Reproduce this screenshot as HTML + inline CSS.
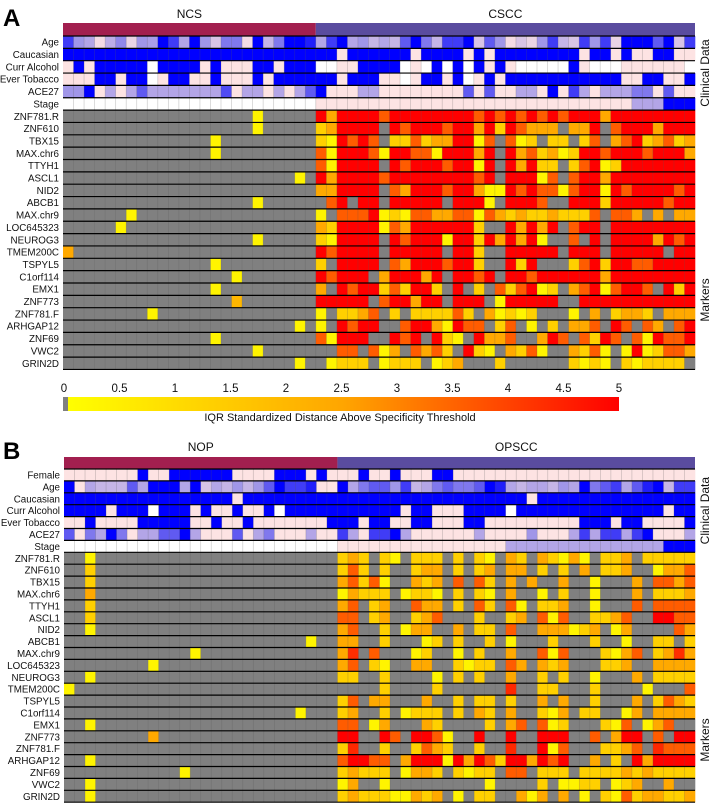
<!DOCTYPE html>
<html><head><meta charset="utf-8">
<style>
html,body{margin:0;padding:0;background:#fff;}
svg{display:block;font-family:"Liberation Sans",Arial,sans-serif;}
</style></head>
<body>
<svg id="fig" width="713" height="804" viewBox="0 0 713 804"></svg>
<script>
// ---------- DATA ----------
const clinicalLabelsA = ["Age","Caucasian","Curr Alcohol","Ever Tobacco","ACE27","Stage"];
const clinicalLabelsB = ["Female","Age","Caucasian","Curr Alcohol","Ever Tobacco","ACE27","Stage"];
const markerLabels = ["ZNF781.R","ZNF610","TBX15","MAX.chr6","TTYH1","ASCL1","NID2","ABCB1","MAX.chr9","LOC645323","NEUROG3","TMEM200C","TSPYL5","C1orf114","EMX1","ZNF773","ZNF781.F","ARHGAP12","ZNF69","VWC2","GRIN2D"];
const groupsA = ["NCS","CSCC"];
const groupSizesA = [24,36];
const groupsB = ["NOP","OPSCC"];
const groupSizesB = [26,34];
const colorbarTicks = [0,0.5,1,1.5,2,2.5,3,3.5,4,4.5,5];

// clinical values: 0 = pink (no/low), 1 = blue (yes/high), -1 = missing (white)
const clinA_age = [.8,.5,.4,.05,.35,.55,.1,.5,.45,1,.8,.4,1,.5,.2,.6,.6,.05,1,.3,.6,1,1,.9, .4,.8,1,.4,.5,.3,.4,.3,.7,1,.6,.3,.8,.8,1,.2,.7,.5,.05,.2,.1,.5,.8,.3,.2,.8,.5,.8,.1,1,1,1,.7,1,.2,.8];
const clinA_cauc = [1,1,1,1,1,1,1,1,1,1,1,1,1,1,1,1,1,1,1,1,1,1,1,1, 1,1,0,1,1,1,1,1,1,0,1,1,1,1,0,1,0,1,1,1,1,1,1,1,1,0,1,1,0,1,0,0,1,1,0,0];
const clinA_alc = [0,1,0,1,1,1,1,1,-1,1,1,1,1,0,1,0,0,0,1,1,0,1,1,1, -1,-1,0,0,1,1,1,1,-1,0,-1,1,-1,1,-1,1,0,1,0,-1,-1,-1,-1,-1,1,0,-1,-1,-1,0,0,0,0,0,0,-1];
const clinA_tob = [0,0,0,1,1,0,1,1,-1,0,1,1,0,0,1,0,0,0,1,0,1,1,1,1, 1,1,0,1,1,1,0,0,-1,0,1,1,0,1,-1,0,1,0,1,1,1,1,1,1,1,1,1,1,1,0,0,1,1,0,0,1];
const clinA_ace = [.5,.5,1,0,.4,0,.4,.7,.4,.4,.4,.4,.4,.4,.4,.75,0,.4,.4,0,.4,0,.4,.7, 1,0,0,0,.4,.4,0,0,0,0,0,0,0,0,.7,0,.7,0,0,.4,.4,0,1,0,.8,.4,0,.4,.4,.4,.6,.6,0,.7,0,0];
const clinA_stage = [-1,-1,-1,-1,-1,-1,-1,-1,-1,-1,-1,-1,-1,-1,-1,-1,-1,-1,-1,-1,-1,-1,-1,-1, 0,0,0,0,0,0,0,0,0,0,0,0,0,0,0,0,0,0,0,0,0,0,0,0,0,0,0,0,0,0,.4,.4,.4,1,1,1];

const clinB_fem = [0,0,0,0,0,0,0,1,0,0,1,1,1,1,1,1,0,0,0,0,1,1,1,0,1,0, 0,0,1,0,0,1,0,0,0,1,1,0,0,0,0,0,0,0,0,0,0,0,0,0,0,0,0,0,0,0,0,0,0,0];
const clinB_age = [1,0,.4,.3,.3,.3,.7,.4,1,1,1,.4,1,.2,.4,.3,.5,.3,.5,.7,1,.8,.8,.9,0,0, 1,.4,.6,.7,.7,.5,.8,.3,.4,.6,.7,.6,.6,.7,1,.9,.4,.3,.4,.4,.3,.5,.4,1,.6,.7,.8,.4,.7,.9,1,.3,.8,.8];
const clinB_cauc = [1,1,1,1,1,1,1,1,1,1,1,1,1,1,1,1,0,1,1,1,1,1,1,1,1,1, 1,1,1,1,1,1,1,1,1,1,1,1,1,1,1,1,1,1,0,1,1,1,1,1,1,1,1,1,1,1,1,1,1,1];
const clinB_alc = [1,1,1,1,0,1,1,1,-1,1,1,1,0,1,0,0,1,0,0,1,-1,1,1,1,1,1, 1,1,1,1,1,1,0,1,1,0,0,0,1,1,1,1,-1,1,1,1,1,1,1,1,1,1,1,1,1,1,1,0,1,1];
const clinB_tob = [0,0,1,0,0,0,0,1,1,1,1,1,0,0,1,0,0,1,0,0,0,0,0,0,0,1, 1,1,0,1,1,0,0,1,1,0,0,0,1,1,0,0,0,0,0,0,0,0,0,1,1,1,0,1,1,0,0,0,0,1];
const clinB_ace = [.7,0,.6,.4,1,.6,0,.4,.4,.7,.7,1,.4,0,0,0,.7,0,.4,.6,0,0,0,.4,0,0, .8,.4,0,.8,.8,1,.4,0,0,0,0,0,0,.4,0,0,0,0,.5,0,0,0,.4,.8,.4,.8,.8,.4,.8,1,0,0,0,.4];
const clinB_stage = [-1,-1,-1,-1,-1,-1,-1,-1,-1,-1,-1,-1,-1,-1,-1,-1,-1,-1,-1,-1,-1,-1,-1,-1,-1,-1, 0,0,0,0,0,0,0,0,0,0,0,0,0,0,0,0,.4,.4,.4,.4,.4,.4,.4,.4,.4,.4,.4,.4,.4,.4,.4,1,1,1];

// marker values: IQR standardized distance (0..5), -1 = below threshold (gray)
const mA01 = [-1,-1,-1,-1,-1,-1,-1,-1,-1,-1,-1,-1,-1,-1,-1,-1,-1,-1,0.3,-1,-1,-1,-1,-1, 5,2.4,5,5,5,5,3.6,5,5,5,5,5,5,5,5,3.6,5,3.6,5,3.6,5,3.6,5,3.6,5,5,5,2.4,5,5,5,5,5,5,5,5];
const mA02 = [-1,-1,-1,-1,-1,-1,-1,-1,-1,-1,-1,-1,-1,-1,-1,-1,-1,-1,0.3,-1,-1,-1,-1,-1, 1.3,2.4,5,5,5,5,-1,5,3.6,5,5,5,3.6,5,5,2.4,5,1.3,5,3.6,2.4,2.4,2.4,-1,2.4,2.4,5,-1,3.6,5,5,5,2.4,5,5,5];
const mA03 = [-1,-1,-1,-1,-1,-1,-1,-1,-1,-1,-1,-1,-1,-1,0.3,-1,-1,-1,-1,-1,-1,-1,-1,-1, 1.3,0.3,5,3.6,5,3.6,-1,1.3,1.3,3.6,1.3,2.4,2.4,5,5,0.3,3.6,-1,3.6,0.3,1.3,-1,1.3,1.3,-1,1.3,3.6,-1,2.4,3.6,5,1.3,2.4,3.6,1.3,2.4];
const mA04 = [-1,-1,-1,-1,-1,-1,-1,-1,-1,-1,-1,-1,-1,-1,0.3,-1,-1,-1,-1,-1,-1,-1,-1,-1, 3.6,0.3,5,5,5,3.6,0.3,5,5,3.6,3.6,0.3,5,5,5,2.4,5,-1,5,2.4,3.6,1.3,2.4,0.3,1.3,5,5,3.6,5,5,5,3.6,5,5,5,2.4];
const mA05 = [-1,-1,-1,-1,-1,-1,-1,-1,-1,-1,-1,-1,-1,-1,-1,-1,-1,-1,-1,-1,-1,-1,-1,-1, 3.6,0.3,5,5,5,5,-1,5,3.6,5,5,5,3.6,5,5,0.3,5,-1,5,2.4,5,1.3,1.3,-1,1.3,3.6,5,0.3,1.3,5,5,5,5,5,5,5];
const mA06 = [-1,-1,-1,-1,-1,-1,-1,-1,-1,-1,-1,-1,-1,-1,-1,-1,-1,-1,-1,-1,-1,-1,0.3,-1, 5,2.4,5,5,5,5,3.6,5,5,5,5,5,5,5,5,3.6,5,-1,5,5,5,0.3,3.6,-1,3.6,5,5,2.4,5,5,5,5,5,5,5,5];
const mA07 = [-1,-1,-1,-1,-1,-1,-1,-1,-1,-1,-1,-1,-1,-1,-1,-1,-1,-1,-1,-1,-1,-1,-1,-1, 2.4,2.4,5,5,5,5,-1,3.6,2.4,5,5,5,3.6,5,5,2.4,0.3,0.3,5,3.6,5,3.6,3.6,0.3,3.6,5,5,0.3,5,3.6,5,5,5,5,3.6,5];
const mA08 = [-1,-1,-1,-1,-1,-1,-1,-1,-1,-1,-1,-1,-1,-1,-1,-1,-1,-1,0.3,-1,-1,-1,-1,-1, -1,3.6,5,-1,5,5,-1,5,5,5,5,5,-1,5,5,5,0.3,-1,5,5,5,3.6,-1,-1,5,5,5,1.3,5,5,5,5,5,3.6,5,5];
const mA09 = [-1,-1,-1,-1,-1,-1,0.3,-1,-1,-1,-1,-1,-1,-1,-1,-1,-1,-1,-1,-1,-1,-1,-1,-1, 0.3,-1,3.6,3.6,3.6,5,0.3,1.3,0.3,3.6,3.6,2.4,2.4,3.6,3.6,0.3,3.6,2.4,1.3,2.4,1.3,1.3,2.4,1.3,1.3,1.3,3.6,-1,3.6,3.6,2.4,-1,2.4,-1,2.4,2.4];
const mA10 = [-1,-1,-1,-1,-1,0.3,-1,-1,-1,-1,-1,-1,-1,-1,-1,-1,-1,-1,-1,-1,-1,-1,-1,-1, 2.4,1.3,5,5,5,5,0.3,3.6,2.4,5,5,5,5,5,5,1.3,-1,-1,5,2.4,5,2.4,5,-1,3.6,5,5,-1,5,5,5,5,5,5,5,5];
const mA11 = [-1,-1,-1,-1,-1,-1,-1,-1,-1,-1,-1,-1,-1,-1,-1,-1,-1,-1,0.3,-1,-1,-1,-1,-1, 1.3,0.3,5,5,5,5,-1,5,3.6,5,5,5,0.3,5,5,1.3,5,2.4,5,2.4,5,0.3,-1,-1,3.6,-1,5,-1,5,5,5,5,2.4,5,3.6,5];
const mA12 = [2.4,-1,-1,-1,-1,-1,-1,-1,-1,-1,-1,-1,-1,-1,-1,-1,-1,-1,-1,-1,-1,-1,-1,-1, 5,3.6,5,5,5,5,-1,5,5,5,5,5,-1,5,5,1.3,-1,-1,5,5,5,5,5,-1,5,5,5,-1,5,5,5,5,5,-1,5,5];
const mA13 = [-1,-1,-1,-1,-1,-1,-1,-1,-1,-1,-1,-1,-1,-1,0.3,-1,-1,-1,-1,-1,-1,-1,-1,-1, 1.3,-1,5,5,5,5,-1,3.6,2.4,5,5,5,3.6,5,5,1.3,-1,-1,5,1.3,5,-1,-1,-1,1.3,3.6,5,1.3,5,5,3.6,3.6,5,5,5,5];
const mA14 = [-1,-1,-1,-1,-1,-1,-1,-1,-1,-1,-1,-1,-1,-1,-1,-1,0.3,-1,-1,-1,-1,-1,-1,-1, 5,3.6,5,5,5,-1,2.4,5,5,5,2.4,5,-1,5,5,3.6,5,-1,5,5,3.6,5,5,5,5,5,5,2.4,5,5,5,5,5,5,5,5];
const mA15 = [-1,-1,-1,-1,-1,-1,-1,-1,-1,-1,-1,-1,-1,-1,0.3,-1,-1,-1,-1,-1,-1,-1,-1,-1, 2.4,-1,5,3.6,5,5,1.3,3.6,1.3,5,5,1.3,-1,5,-1,1.3,-1,3.6,1.3,3.6,5,0.3,1.3,-1,2.4,3.6,5,0.3,3.6,5,5,3.6,-1,5,1.3,5];
const mA16 = [-1,-1,-1,-1,-1,-1,-1,-1,-1,-1,-1,-1,-1,-1,-1,-1,2.0,-1,-1,-1,-1,-1,-1,-1, 5,5,5,5,5,-1,3.6,5,5,2.4,5,5,-1,5,5,5,-1,0.3,5,5,5,5,5,-1,-1,5,5,5,5,5,5,5,5,5,5,5];
const mA17 = [-1,-1,-1,-1,-1,-1,-1,-1,0.3,-1,-1,-1,-1,-1,-1,-1,-1,-1,-1,-1,-1,-1,-1,-1, 0.3,-1,1.3,1.3,2.4,3.6,-1,1.3,-1,1.3,1.3,1.3,1.3,3.6,1.3,-1,2.4,0.3,1.3,0.3,1.3,-1,-1,-1,0.3,-1,2.4,-1,1.3,2.4,2.4,1.3,-1,2.4,2.4,2.4];
const mA18 = [-1,-1,-1,-1,-1,-1,-1,-1,-1,-1,-1,-1,-1,-1,-1,-1,-1,-1,-1,-1,-1,-1,0.3,-1, 0.3,-1,5,3.6,5,5,-1,-1,3.6,5,5,2.4,0.3,5,3.6,3.6,-1,1.3,3.6,-1,0.3,-1,1.3,-1,2.4,2.4,3.6,-1,5,3.6,-1,3.6,2.4,-1,3.6,5];
const mA19 = [-1,-1,-1,-1,-1,-1,-1,-1,-1,-1,-1,-1,-1,-1,0.3,-1,-1,-1,-1,-1,-1,-1,-1,-1, 3.6,0.3,5,5,5,-1,-1,5,3.6,5,-1,5,1.3,0.3,-1,5,2.4,2.4,3.6,-1,-1,2.4,5,3.6,-1,3.6,1.3,5,3.6,-1,3.6,0.3,5,3.6,3.6,5];
const mA20 = [-1,-1,-1,-1,-1,-1,-1,-1,-1,-1,-1,-1,-1,-1,-1,-1,-1,-1,0.3,-1,-1,-1,-1,-1, -1,-1,3.6,3.6,-1,3.6,0.3,2.4,-1,3.6,2.4,3.6,1.3,-1,5,1.3,0.3,-1,2.4,1.3,3.6,0.3,-1,-1,2.4,1.3,3.6,0.3,-1,0.3,5,0.3,1.3,3.6,3.6,2.4];
const mA21 = [-1,-1,-1,-1,-1,-1,-1,-1,-1,-1,-1,-1,-1,-1,-1,-1,-1,-1,-1,-1,-1,-1,0.3,-1, -1,0.3,1.3,1.3,1.3,-1,0.3,1.3,1.3,1.3,-1,0.3,1.3,2.4,-1,-1,-1,1.3,-1,-1,-1,-1,-1,-1,1.3,0.3,1.3,0.3,-1,1.3,0.3,1.3,1.3,1.3,1.3,-1];

const mB01 = [-1,-1,0.3,-1,-1,-1,-1,-1,-1,-1,-1,-1,-1,-1,-1,-1,-1,-1,-1,-1,-1,-1,-1,-1,-1,-1, 1.3,2.4,1.3,-1,1.3,0.3,-1,1.3,1.3,1.3,-1,1.3,-1,1.3,0.3,-1,2.4,1.3,-1,2.4,1.3,0.3,2.4,0.3,-1,1.3,1.3,2.4,-1,1.3,1.3,1.3,1.3,1.3];
const mB02 = [-1,-1,1.3,-1,-1,-1,-1,-1,-1,-1,-1,-1,-1,-1,-1,-1,-1,-1,-1,-1,-1,-1,-1,-1,-1,-1, 1.3,3.6,1.3,-1,1.3,-1,-1,1.3,2.4,2.4,-1,1.3,-1,1.3,2.4,-1,2.4,2.4,-1,1.3,-1,1.3,-1,2.4,-1,1.3,1.3,2.4,-1,-1,0.3,2.4,2.4,3.6];
const mB03 = [-1,-1,1.3,-1,-1,-1,-1,-1,-1,-1,-1,-1,-1,-1,-1,-1,-1,-1,-1,-1,-1,-1,-1,-1,-1,-1, 2.4,3.6,1.3,3.6,0.3,-1,-1,2.4,1.3,2.4,-1,3.6,-1,3.6,1.3,-1,2.4,-1,2.4,-1,-1,2.4,-1,-1,0.3,-1,-1,-1,2.4,-1,3.6,3.6,2.4,3.6];
const mB04 = [-1,-1,2.4,-1,-1,-1,-1,-1,-1,-1,-1,-1,-1,-1,-1,-1,-1,-1,-1,-1,-1,-1,-1,-1,-1,-1, 0.3,2.4,1.3,1.3,1.3,-1,0.3,1.3,1.3,0.3,-1,1.3,-1,1.3,0.3,-1,2.4,-1,-1,0.3,-1,1.3,-1,-1,0.3,-1,-1,-1,2.4,-1,1.3,1.3,1.3,2.4];
const mB05 = [-1,-1,1.3,-1,-1,-1,-1,-1,-1,-1,-1,-1,-1,-1,-1,-1,-1,-1,-1,-1,-1,-1,-1,-1,-1,-1, 2.4,3.6,-1,1.3,2.4,-1,-1,3.6,2.4,2.4,-1,1.3,-1,3.6,1.3,-1,3.6,0.3,-1,1.3,1.3,2.4,-1,-1,0.3,-1,-1,-1,3.6,-1,3.6,3.6,3.6,3.6];
const mB06 = [-1,-1,1.3,-1,-1,-1,-1,-1,-1,-1,-1,-1,-1,-1,-1,-1,-1,-1,-1,-1,-1,-1,-1,-1,-1,-1, 3.6,3.6,-1,1.3,2.4,-1,-1,1.3,2.4,3.6,-1,-1,-1,1.3,-1,-1,1.3,2.4,-1,3.6,0.3,3.6,-1,-1,1.3,1.3,2.4,3.6,-1,-1,5,5,3.6,3.6];
const mB07 = [-1,-1,0.3,-1,-1,-1,-1,-1,-1,-1,-1,-1,-1,-1,-1,-1,-1,-1,-1,-1,-1,-1,-1,-1,-1,-1, 2.4,3.6,-1,-1,1.3,-1,0.3,2.4,2.4,-1,-1,2.4,-1,1.3,1.3,-1,3.6,-1,-1,2.4,2.4,2.4,0.3,1.3,2.4,-1,0.3,2.4,-1,-1,-1,-1,3.6,2.4];
const mB08 = [-1,-1,-1,-1,-1,-1,-1,-1,-1,-1,-1,-1,-1,-1,-1,-1,-1,-1,-1,-1,-1,-1,-1,0.3,-1,-1, 2.4,2.4,-1,-1,1.3,-1,-1,-1,0.3,1.3,-1,1.3,-1,-1,1.3,-1,0.3,-1,-1,-1,1.3,-1,-1,-1,1.3,-1,-1,0.3,-1,-1,1.3,1.3,-1,1.3];
const mB09 = [-1,-1,-1,-1,-1,-1,-1,-1,-1,-1,-1,-1,0.3,-1,-1,-1,-1,-1,-1,-1,-1,-1,-1,-1,-1,-1, 2.4,4.3,-1,3.6,-1,-1,-1,0.3,1.3,-1,-1,0.3,-1,1.3,-1,-1,2.4,-1,-1,3.6,0.3,3.6,-1,-1,-1,1.3,0.3,2.4,3.6,-1,1.3,2.4,4.3,2.4];
const mB10 = [-1,-1,-1,-1,-1,-1,-1,-1,0.3,-1,-1,-1,-1,-1,-1,-1,-1,-1,-1,-1,-1,-1,-1,-1,-1,-1, 2.4,3.6,-1,1.3,0.3,-1,-1,2.4,2.4,-1,-1,1.3,0.3,1.3,1.3,-1,3.6,2.4,-1,2.4,1.3,2.4,-1,-1,-1,1.3,1.3,2.4,-1,-1,2.4,2.4,2.4,2.4];
const mB11 = [-1,-1,0.3,-1,-1,-1,-1,-1,-1,-1,-1,-1,-1,-1,-1,-1,-1,-1,-1,-1,-1,-1,-1,-1,-1,-1, 1.3,1.3,-1,-1,1.3,-1,-1,-1,-1,0.3,-1,1.3,-1,1.3,-1,-1,2.4,-1,-1,1.3,-1,1.3,-1,-1,0.3,-1,-1,-1,2.4,-1,1.3,1.3,1.3,1.3];
const mB12 = [0.3,-1,-1,-1,-1,-1,-1,-1,-1,-1,-1,-1,-1,-1,-1,-1,-1,-1,-1,-1,-1,-1,-1,-1,-1,-1, -1,-1,-1,-1,1.3,-1,-1,-1,-1,1.3,-1,-1,-1,-1,-1,-1,4.4,-1,-1,1.3,1.3,-1,-1,-1,1.3,-1,-1,-1,-1,0.3,-1,-1,-1,3.6];
const mB13 = [-1,-1,-1,-1,-1,-1,-1,-1,-1,-1,-1,-1,-1,-1,-1,-1,-1,-1,-1,-1,-1,-1,-1,-1,-1,-1, 1.3,3.6,-1,2.4,2.4,-1,-1,-1,2.4,-1,-1,1.3,-1,1.3,1.3,-1,1.3,-1,-1,2.4,-1,2.4,-1,-1,1.3,-1,-1,-1,2.4,-1,1.3,3.6,2.4,1.3];
const mB14 = [-1,-1,-1,-1,-1,-1,-1,-1,-1,-1,-1,-1,-1,-1,-1,-1,-1,-1,-1,-1,-1,-1,0.3,-1,-1,-1, 1.3,2.4,-1,-1,1.3,-1,0.3,1.3,1.3,1.3,-1,1.3,-1,2.4,1.3,-1,2.4,-1,-1,1.3,0.3,2.4,-1,1.3,1.3,-1,-1,0.3,2.4,-1,2.4,2.4,2.4,2.4];
const mB15 = [-1,-1,0.3,-1,-1,-1,-1,-1,-1,-1,-1,-1,-1,-1,-1,-1,-1,-1,-1,-1,-1,-1,-1,-1,-1,-1, 3.6,3.6,-1,0.3,2.4,-1,-1,-1,2.4,1.3,-1,-1,-1,-1,1.3,-1,2.4,3.6,-1,3.6,0.3,1.3,-1,-1,-1,1.3,0.3,3.6,-1,0.3,2.4,3.6,-1,-1];
const mB16 = [-1,-1,-1,-1,-1,-1,-1,-1,2.4,-1,-1,-1,-1,-1,-1,-1,-1,-1,-1,-1,-1,-1,-1,-1,-1,-1, 5,5,-1,-1,5,3.6,-1,5,5,3.6,0.3,-1,-1,5,-1,-1,5,-1,-1,5,5,5,-1,-1,3.6,-1,2.4,5,5,-1,3.6,-1,5,5];
const mB17 = [-1,-1,-1,-1,-1,-1,-1,-1,-1,-1,-1,-1,-1,-1,-1,-1,-1,-1,-1,-1,-1,-1,-1,-1,-1,-1, 1.3,4.4,-1,-1,1.3,-1,-1,1.3,3.6,2.4,1.3,-1,-1,1.3,-1,-1,4.4,-1,-1,5,0.3,3.6,-1,-1,-1,1.3,1.3,2.4,3.6,-1,4.4,3.6,3.6,3.6];
const mB18 = [-1,-1,0.3,-1,-1,-1,-1,-1,-1,-1,-1,-1,-1,-1,-1,-1,-1,-1,-1,-1,-1,-1,-1,-1,-1,-1, 3.6,5,5,3.6,3.6,-1,2.4,5,5,5,0.3,5,2.4,5,3.6,1.3,5,5,2.4,5,3.6,5,-1,-1,2.4,-1,1.3,-1,5,2.4,5,5,5,5];
const mB19 = [-1,-1,-1,-1,-1,-1,-1,-1,-1,-1,-1,0.3,-1,-1,-1,-1,-1,-1,-1,-1,-1,-1,-1,-1,-1,-1, 1.3,2.4,1.3,1.3,1.3,-1,0.3,2.4,2.4,1.3,-1,1.3,0.3,1.3,1.3,-1,3.6,3.6,-1,1.3,1.3,1.3,-1,1.3,1.3,1.3,1.3,2.4,1.3,2.4,1.3,1.3,1.3,1.3];
const mB20 = [-1,-1,0.3,-1,-1,-1,-1,-1,-1,-1,-1,-1,-1,-1,-1,-1,-1,-1,-1,-1,-1,-1,-1,-1,-1,-1, 0.3,2.4,-1,-1,0.3,-1,-1,-1,-1,-1,-1,-1,-1,-1,0.3,-1,-1,-1,-1,1.3,-1,0.3,0.3,1.3,1.3,-1,0.3,1.3,2.4,-1,-1,2.4,-1,-1];
const mB21 = [-1,-1,0.3,-1,-1,-1,-1,-1,-1,-1,-1,-1,-1,-1,-1,-1,-1,-1,-1,-1,-1,-1,-1,-1,-1,-1, 1.3,2.4,1.3,1.3,1.3,0.3,0.3,2.4,1.3,2.4,-1,0.3,-1,1.3,1.3,-1,-1,2.4,0.3,2.4,-1,2.4,-1,0.3,-1,1.3,0.3,3.6,1.3,2.4,2.4,1.3,1.3,2.4];

const clinicalA = [clinA_age,clinA_cauc,clinA_alc,clinA_tob,clinA_ace,clinA_stage];
const clinicalB = [clinB_fem,clinB_age,clinB_cauc,clinB_alc,clinB_tob,clinB_ace,clinB_stage];
const markersA = [mA01,mA02,mA03,mA04,mA05,mA06,mA07,mA08,mA09,mA10,mA11,mA12,mA13,mA14,mA15,mA16,mA17,mA18,mA19,mA20,mA21];
const markersB = [mB01,mB02,mB03,mB04,mB05,mB06,mB07,mB08,mB09,mB10,mB11,mB12,mB13,mB14,mB15,mB16,mB17,mB18,mB19,mB20,mB21];

// ---------- RENDER ----------
const NS = "http://www.w3.org/2000/svg";
const svg = document.getElementById('fig');
function mk(tag, attrs, parent){
  const e = document.createElementNS(NS, tag);
  for (const k in attrs) e.setAttribute(k, attrs[k]);
  (parent||svg).appendChild(e);
  return e;
}
function lerp(a,b,t){return Math.round(a+(b-a)*t);}
function clinColor(v){
  if (v < 0) return '#ffffff';
  const p=[253,227,227], m=[160,150,232], b=[0,0,255];
  let c;
  if (v<=0.5){const t=v/0.5;c=[lerp(p[0],m[0],t),lerp(p[1],m[1],t),lerp(p[2],m[2],t)];}
  else {const t=(v-0.5)/0.5;c=[lerp(m[0],b[0],t),lerp(m[1],b[1],t),lerp(m[2],b[2],t)];}
  return `rgb(${c[0]},${c[1]},${c[2]})`;
}
function markColor(v){
  if (v < 0) return '#808080';
  const x=Math.max(0,Math.min(5,v));
  let g;
  if (x<=2.5) g = lerp(255,165,x/2.5); else g = lerp(165,0,(x-2.5)/2.5);
  return `rgb(255,${g},0)`;
}

function drawPanel(P){
  const n = P.sizes[0]+P.sizes[1];
  const cw = (P.x1-P.x0)/n;
  const xs = i => P.x0 + i*cw;
  const ys = r => P.rowY + r*P.rh;
  const g = mk('g',{});
  
  
  const L = mk('text',{x:3,y:P.letterY,'font-size':24,'font-weight':'bold',fill:'#000'},g);
  L.textContent = P.letter;
  
  
  let start=0;
  P.groups.forEach((gn,gi)=>{
    const r = mk('rect',{x:xs(start),y:P.hy,width:P.sizes[gi]*cw,height:P.rowY-P.hy,fill:gi===0?'#a21f4f':'#5a4c9f'},g);
    
    
    const t = mk('text',{x:xs(start)+P.sizes[gi]*cw/2,y:P.titleY,'font-size':12,'text-anchor':'middle',fill:'#111'},g);
    t.textContent = gn;
    
    
    start += P.sizes[gi];
  });
  const rows = P.clin.length + P.mark.length;
  P.clin.forEach((arr,ri)=>{
    arr.forEach((v,ci)=>{
      const c = mk('rect',{x:xs(ci),y:ys(ri),width:cw+0.3,height:P.rh+0.3,fill:clinColor(v)},g);
      
      
    });
  });
  P.mark.forEach((arr,mi)=>{
    const ri = P.clin.length+mi;
    arr.forEach((v,ci)=>{
      const c = mk('rect',{x:xs(ci),y:ys(ri),width:cw+0.3,height:P.rh+0.3,fill:markColor(v)},g);
      
      
    });
  });
  for (let i=1;i<n;i++){
    const l = mk('line',{x1:xs(i),x2:xs(i),y1:P.rowY,y2:ys(rows),stroke:'#555','stroke-opacity':0.3,'stroke-width':0.7},g);
    
    
  }
  for (let r=0;r<=rows;r++){
    const l = mk('line',{x1:P.x0,x2:P.x1,y1:ys(r),y2:ys(r),stroke:'#000','stroke-width':1.2},g);
    
    
  }
  const labels = P.clinLabels.concat(markerLabels);
  labels.forEach((lb,ri)=>{
    const t = mk('text',{x:P.x0-4,y:ys(ri)+P.rh/2+3.5,'font-size':9.8,'text-anchor':'end',fill:'#111'},g);
    t.textContent = lb;
    
    
  });
  const cy = (P.rowY + ys(P.clin.length))/2;
  const s1 = mk('text',{x:0,y:0,'font-size':12,'text-anchor':'middle',fill:'#111',transform:`translate(${P.x1+14},${cy}) rotate(-90)`},g);
  s1.textContent = 'Clinical Data';
  
  
  const s2 = mk('text',{x:0,y:0,'font-size':12,'text-anchor':'middle',fill:'#111',transform:`translate(${P.x1+14},${P.markersLabelY}) rotate(-90)`},g);
  s2.textContent = 'Markers';
  
  
}

drawPanel({name:'panel-a',letter:'A',letterY:26,titleY:18,hy:23,rowY:36,rh:12.35,x0:63,x1:695,
  groups:groupsA,sizes:groupSizesA,clin:clinicalA,mark:markersA,clinLabels:clinicalLabelsA,markersLabelY:300});
drawPanel({name:'panel-b',letter:'B',letterY:459,titleY:451,hy:457,rowY:469,rh:11.9,x0:64,x1:695,
  groups:groupsB,sizes:groupSizesB,clin:clinicalB,mark:markersB,clinLabels:clinicalLabelsB,markersLabelY:740});

// ---------- COLORBAR ----------
const cbX0 = 68, cbX1 = 619, cbY = 397, cbH = 14;
const cbScale = v => 64 + v*(cbX1-64)/5;
const defs = mk('defs',{});
const grad = mk('linearGradient',{id:'cbgrad',x1:'0',x2:'1',y1:'0',y2:'0'},defs);
mk('stop',{offset:'0','stop-color':'rgb(255,255,0)'},grad);
mk('stop',{offset:'0.5','stop-color':'rgb(255,165,0)'},grad);
mk('stop',{offset:'1','stop-color':'rgb(255,0,0)'},grad);
const cbg = mk('g',{});


const grayBox = mk('rect',{x:63,y:cbY,width:cbX0-63,height:cbH,fill:'#808080'},cbg);


const cbr = mk('rect',{x:cbX0,y:cbY,width:cbX1-cbX0,height:cbH,fill:'url(#cbgrad)'},cbg);


colorbarTicks.forEach(v=>{
  const t = mk('text',{x:cbScale(v),y:392,'font-size':11.5,'text-anchor':'middle',fill:'#111'},cbg);
  t.textContent = String(v);
  
  
});
const cbt = mk('text',{x:340,y:421,'font-size':11,'text-anchor':'middle',fill:'#111'},cbg);
cbt.textContent = 'IQR Standardized Distance Above Specificity Threshold';


</script>
</body></html>
